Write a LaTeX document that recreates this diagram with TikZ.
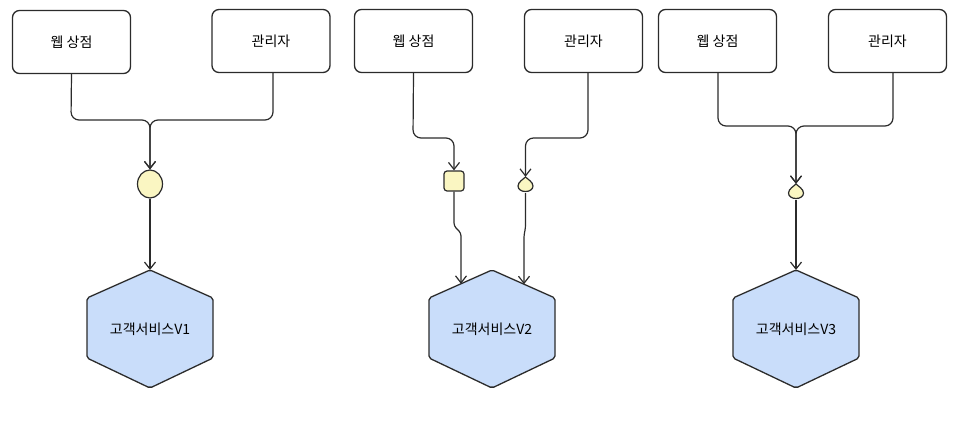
\documentclass[tikz,border=0pt]{standalone}
\usepackage{fontspec}
\setmainfont{Noto Sans CJK KR}
\usetikzlibrary{arrows.meta,calc,shapes.geometric}
\definecolor{hexblue}{HTML}{C9DDFA}
\definecolor{paleyel}{HTML}{FAF6C2}
\definecolor{ink}{HTML}{2B2B2B}
\begin{document}
\begin{tikzpicture}[x=1pt,y=-1pt,
  box/.style={draw=ink, line width=1.3pt, rounded corners=7pt, fill=white,
    minimum width=118pt, minimum height=63pt, inner sep=0pt,
    font=\fontsize{14}{16}\selectfont},
  conn/.style={draw=ink, line width=1.2pt, rounded corners=8pt,
    -{Straight Barb[length=7pt,width=11pt]}},
  hexshape/.style={draw=ink, line width=1.3pt, fill=hexblue, rounded corners=2pt},
  hexlabel/.style={font=\fontsize{14}{16}\selectfont, inner sep=0pt},
  smallfill/.style={draw=ink, line width=1.2pt, fill=paleyel},
  anchornode/.style={circle, minimum size=16pt, inner sep=0pt, draw=none},
  tear/.pic={\draw[smallfill] (0,-8) .. controls (2,-6) and (7.5,-3) .. (7.5,1)
     .. controls (7.5,4.5) and (4,6.5) .. (0,6.5)
     .. controls (-4,6.5) and (-7.5,4.5) .. (-7.5,1)
     .. controls (-7.5,-3) and (-2,-6) .. cycle;}
]
\useasboundingbox (0,0) rectangle (977,428);

% ---------- Panel 1 ----------
\node[box] (w1) at (71.5,42) {웹 상점};
\node[box] (a1) at (271,41) {관리자};
\node[ellipse, smallfill, minimum width=25pt, minimum height=28pt, inner sep=0pt] (c1) at (150,184) {};
\draw[hexshape] (150,270) -- (87,298) -- (87,358) -- (150,388) -- (213,358) -- (213,298) -- cycle;
\node[hexlabel] (h1) at (150,329) {고객서비스V1};
\coordinate (h1t) at (150,270);
\draw[conn] (w1.south) -- (71,120) -- (150,120) -- (c1.north);
\draw[conn] ([xshift=2pt]a1.south) -- (273,120) -- (150,120) -- (c1.north);
\draw[conn] (c1.south) -- (h1t);

% ---------- Panel 2 ----------
\node[box] (w2) at (413.5,41) {웹 상점};
\node[box] (a2) at (583.5,41) {관리자};
\node[smallfill, rounded corners=3pt, minimum size=20pt, inner sep=0pt] (s2) at (454,181) {};
\node[anchornode] (t2) at (525.5,185) {};
\pic at (525.5,185) {tear};
\draw[hexshape] (492,270) -- (429,298) -- (429,358) -- (492,388) -- (555,358) -- (555,298) -- cycle;
\node[hexlabel] (h2) at (492,329) {고객서비스V2};
\coordinate (h2l) at (461,283.8);
\coordinate (h2r) at (524,284.2);
\draw[conn] (w2.south) -- (413,138) -- (454,138) -- (s2.north);
\draw[conn] ([xshift=4.5pt]a2.south) -- (588,138) -- (525.5,138) -- (t2.north);
\draw[conn, rounded corners=3pt] (s2.south) -- (454,226) -- (461,233) -- (h2l);
\draw[conn, rounded corners=3pt] (t2.south) -- (525.5,228) -- (524,235) -- (h2r);

% ---------- Panel 3 ----------
\node[box] (w3) at (717.5,41) {웹 상점};
\node[box] (a3) at (887.5,41) {관리자};
\node[anchornode] (t3) at (796,192) {};
\pic at (796,192) {tear};
\draw[hexshape] (796,270) -- (733,298) -- (733,358) -- (796,388) -- (859,358) -- (859,298) -- cycle;
\node[hexlabel] (h3) at (796,329) {고객서비스V3};
\coordinate (h3t) at (796,270);
\draw[conn] ([xshift=0.5pt]w3.south) -- (718,126) -- (796,126) -- (t3.north);
\draw[conn] ([xshift=5.5pt]a3.south) -- (893,126) -- (796,126) -- (t3.north);
\draw[conn] (t3.south) -- (h3t);
\end{tikzpicture}
\end{document}
